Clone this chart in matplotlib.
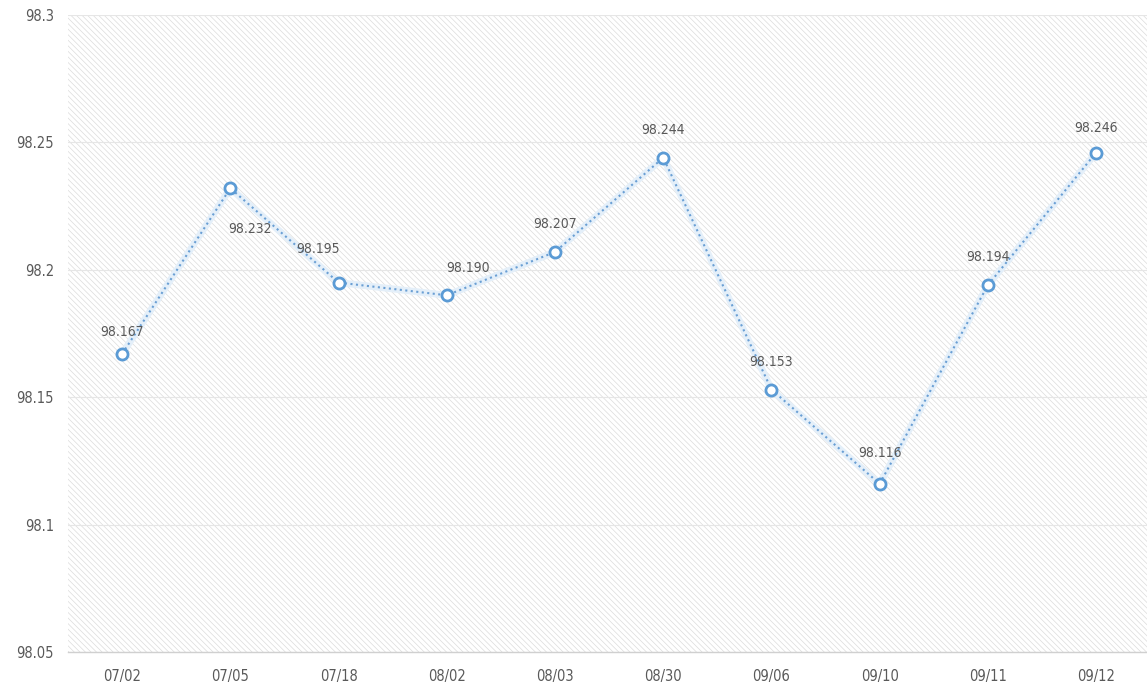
import matplotlib.pyplot as plt
from matplotlib.patches import Rectangle

dates = ['07/02', '07/05', '07/18', '08/02', '08/03', '08/30', '09/06', '09/10', '09/11', '09/12']
values = [98.167, 98.232, 98.195, 98.190, 98.207, 98.244, 98.153, 98.116, 98.194, 98.246]
# label offsets in points (x, y) relative to each marker
label_offsets = [(0, 16), (14, -29), (-15, 24), (15, 20), (0, 20), (0, 20), (0, 20), (0, 22), (0, 20), (0, 18)]

plt.rcParams['font.family'] = ['DejaVu Sans']
plt.rcParams['font.stretch'] = 'condensed'
plt.rcParams['hatch.linewidth'] = 0.5

fig = plt.figure(figsize=(11.47, 6.99), dpi=100)
ax = fig.add_axes([68 / 1147, 1 - 652 / 699, 1 - 68 / 1147, (652 - 15) / 699])

# hatched plot background
ax.add_patch(Rectangle((0, 0), 1, 1, transform=ax.transAxes, facecolor='white',
                       edgecolor='#dcdcdc', linewidth=0, hatch='\\\\\\\\\\\\', zorder=0))

x = list(range(len(dates)))
blue = '#5b9bd5'
# soft glow under the line and markers
ax.plot(x, values, color='#e4eff9', linewidth=5, solid_capstyle='round', zorder=2)
ax.plot(x, values, linestyle=':', color='#6a9fd4', linewidth=1.5, zorder=3)
ax.plot(x, values, linestyle='none', marker='o', markersize=8, markerfacecolor='white',
        markeredgecolor=blue, markeredgewidth=2, zorder=4)

for xi, v, off in zip(x, values, label_offsets):
    ax.annotate(f'{v:.3f}', (xi, v), xytext=off, textcoords='offset points',
                ha='center', va='center', fontsize=10, color='#595959', zorder=5)

ax.set_ylim(98.05, 98.3)
ax.set_yticks([98.05, 98.1, 98.15, 98.2, 98.25, 98.3])
ax.set_yticklabels(['98.05', '98.1', '98.15', '98.2', '98.25', '98.3'])
ax.set_xlim(-0.5, 9.47)
ax.set_xticks(x)
ax.set_xticklabels(dates)
ax.tick_params(length=0, labelsize=10.5, labelcolor='#595959', pad=12)
ax.tick_params(axis='y', pad=10)

ax.grid(axis='y', color='#e6e6e6', linewidth=0.8, zorder=1)
ax.set_axisbelow(True)
for s in ['top', 'right', 'left']:
    ax.spines[s].set_visible(False)
ax.spines['bottom'].set_color('#d0d0d0')
ax.spines['bottom'].set_linewidth(1)

fig.savefig('out.png', dpi=100)
